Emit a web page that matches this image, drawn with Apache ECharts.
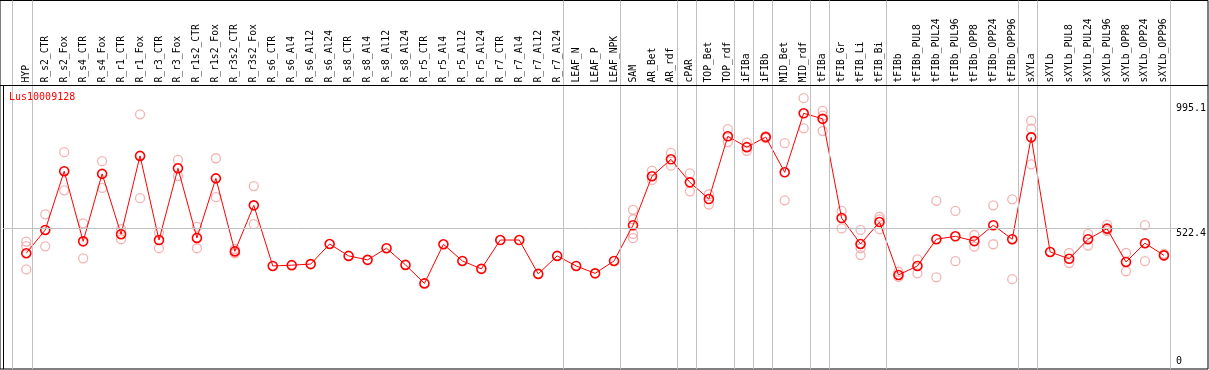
<!DOCTYPE html>
<html>
<head>
<meta charset="utf-8">
<script src="https://cdn.jsdelivr.net/npm/echarts@6/dist/echarts.min.js"></script>
<style>
html,body{margin:0;padding:0;background:#fff;}
#chart{width:1209px;height:370px;}
</style>
</head>
<body>
<div id="chart"></div>
<script>
var geneName = 'Lus10009128';
var categories = ['HYP','R_s2_CTR','R_s2_Fox','R_s4_CTR','R_s4_Fox','R_r1_CTR','R_r1_Fox','R_r3_CTR','R_r3_Fox',
  'R_r1s2_CTR','R_r1s2_Fox','R_r3s2_CTR','R_r3s2_Fox','R_s6_CTR','R_s6_Al4','R_s6_Al12','R_s6_Al24',
  'R_s8_CTR','R_s8_Al4','R_s8_Al12','R_s8_Al24','R_r5_CTR','R_r5_Al4','R_r5_Al12','R_r5_Al24',
  'R_r7_CTR','R_r7_Al4','R_r7_Al12','R_r7_Al24','LEAF_N','LEAF_P','LEAF_NPK','SAM','AR_Bet','AR_rdf',
  'cPAR','TOP_Bet','TOP_rdf','iFIBa','iFIBb','MID_Bet','MID_rdf','tFIBa','tFIB_Gr','tFIB_Li','tFIB_Bi',
  'tFIBb','tFIBb_PUL8','tFIBb_PUL24','tFIBb_PUL96','tFIBb_OPP8','tFIBb_OPP24','tFIBb_OPP96',
  'sXYLa','sXYLb','sXYLb_PUL8','sXYLb_PUL24','sXYLb_PUL96','sXYLb_OPP8','sXYLb_OPP24','sXYLb_OPP96'];
var means = [428,516,738,473,728,500,796,478,749,486,711,435,609,380,383,387,463,418,403,447,384,314,
  462,399,369,478,478,350,418,380,352,399,534,719,783,696,633,870,829,867,734,957,936,561,463,546,
  346,380,481,492,474,534,481,866,433,407,481,521,395,466,420];
var replicates = [[472,455,367],[575,454],[810,666],[541,409],[776,675],[519,481],[953,636],[506,447],
  [781,720],[528,447],[787,640],[444,428],[682,538],[],[],[],[],[],[],[],[],[],[],[],[],[],[],[],[],
  [],[],[],[592,556,501,485],[740,705],[807,759],[730,662],[651,612],[897,848],[846,815],[871,863],
  [844,628],[1014,900],[966,948,890],[588,522],[516,447,421],[566,556,519],[358,339],[405,352],
  [626,337],[588,398],[497,453],[609,462],[632,330],[929,899,764],[],[429,391],[501,457],[535,513],
  [429,360],[534,398],[426,418]];
// group separators are drawn just right of these categories
var separatorsAfter = [-1.05,0,28,31,34,35,37,38,39,41,42,45,52,53,60];
var upperTicks = [522.4, 995.1];
var lowerTicks = [0];
var midLine = 522.4;

// layout (pixels)
var band = 19, plotLeft = 16.8;
var headerBottom = 85.5, zeroY = 366.5, frameBottom = 369, frameRight = 1208;
var yMax = 1062;
var pxPerUnit = (zeroY - headerBottom) / yMax;
var frameYMin = -(frameBottom - zeroY) / pxPerUnit;
var frameYMax = yMax + (headerBottom - 0.5) / pxPerUnit;
function toIdx(px){ return (px - plotLeft) / band - 0.5; }

var repData = [];
replicates.forEach(function(list, i){
  list.forEach(function(v){ repData.push([categories[i], v]); });
});

var grey = '#c0c0c0';
var markData = separatorsAfter.map(function(i){
  return {xAxis: i + 4 / band, lineStyle: {color: grey, width: 1, type: 'solid'}};
});
markData.push({yAxis: yMax, lineStyle: {color: '#000', width: 1, type: 'solid'}});
markData.push([{coord: [toIdx(1), frameYMin], lineStyle: {color: '#000', width: 1, type: 'solid'}},
               {coord: [toIdx(1), yMax]}]);
markData.push([{coord: [toIdx(1), midLine], lineStyle: {color: grey, width: 1, type: 'solid'}},
               {coord: [toIdx(1178), midLine]}]);

var font = 'DejaVu Sans Mono';
var myChart = echarts.init(document.getElementById('chart'));
var option = {
  animation: false,
  backgroundColor: '#fff',
  title: {
    text: geneName, left: 9, top: 92, padding: 0,
    textStyle: {color: '#ff0000', fontSize: 10, fontWeight: 'normal', fontFamily: font}
  },
  grid: [
    {left: -2, top: 0.5, width: frameRight + 2, height: frameBottom - 0.5,
     show: true, borderColor: '#000', borderWidth: 1, backgroundColor: 'transparent'},
    {left: plotLeft, top: headerBottom, width: band * categories.length, height: zeroY - headerBottom}
  ],
  xAxis: [
    {gridIndex: 0, type: 'value', min: toIdx(-2), max: toIdx(frameRight), show: false},
    {gridIndex: 1, type: 'category', data: categories, position: 'top',
     axisLine: {show: false}, axisTick: {show: false}, splitLine: {show: false},
     axisLabel: {rotate: 90, interval: 0, margin: 3, fontSize: 9.7, fontFamily: font, color: '#000'}}
  ],
  yAxis: [
    {gridIndex: 0, type: 'value', min: frameYMin, max: frameYMax, show: false},
    {gridIndex: 1, type: 'value', min: 0, max: yMax, position: 'right',
     axisLine: {show: false}, axisTick: {show: false}, splitLine: {show: false},
     axisLabel: {customValues: upperTicks, verticalAlign: 'top', margin: 2.5, fontSize: 10,
       fontFamily: font, color: '#000', formatter: function(v){ return String(v); }}},
    {gridIndex: 1, type: 'value', min: 0, max: yMax, position: 'right', offset: 0,
     axisLine: {show: false}, axisTick: {show: false}, splitLine: {show: false},
     axisLabel: {customValues: lowerTicks, verticalAlign: 'bottom', margin: 2.5, fontSize: 10,
       fontFamily: font, color: '#000', formatter: function(v){ return String(v); }}}
  ],
  series: [
    {type: 'line', xAxisIndex: 0, yAxisIndex: 0, data: [], silent: true,
     markLine: {silent: true, symbol: ['none', 'none'], label: {show: false}, data: markData}},
    {type: 'scatter', xAxisIndex: 1, yAxisIndex: 1, data: repData, z: 3,
     symbol: 'circle', symbolSize: 9,
     itemStyle: {color: 'rgba(255,255,255,0)', borderColor: '#f0a0a0', borderWidth: 1.3}},
    {type: 'line', xAxisIndex: 1, yAxisIndex: 1, data: means, z: 4,
     symbol: 'circle', symbolSize: 9, showAllSymbol: true,
     lineStyle: {color: '#ff0000', width: 1},
     itemStyle: {color: 'rgba(255,255,255,0)', borderColor: '#ff0000', borderWidth: 1.6}}
  ]
};
myChart.setOption(option);
</script>
</body>
</html>
